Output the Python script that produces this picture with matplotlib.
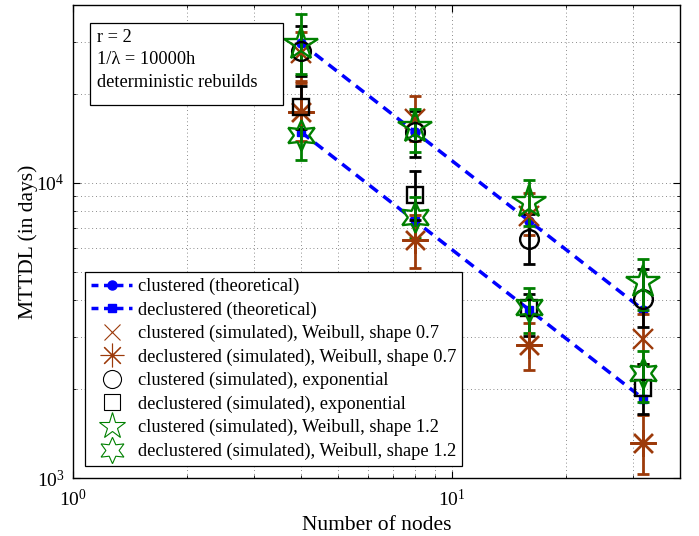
import numpy as np
import matplotlib
matplotlib.use("Agg")
import matplotlib.pyplot as plt
from matplotlib.lines import Line2D
from matplotlib.patches import Rectangle
from matplotlib.ticker import NullFormatter, LogLocator

plt.rcParams['font.family'] = ['Liberation Serif', 'DejaVu Serif']
plt.rcParams['mathtext.fontset'] = 'custom'
plt.rcParams['mathtext.rm'] = 'Liberation Serif'

# number of nodes
nodes = [4, 8, 16, 32]

# theoretical MTTDL (days)
clus_theory = [29700, 14850, 7425, 3712]
declus_theory = [14850, 7425, 3712, 1856]

# simulated: value, lower bound, upper bound
clus_w07 = [27500, 16400, 7700, 2950]
clus_w07_lo = [22100, 13900, 6630, 2440]
clus_w07_hi = [32300, 19700, 9220, 3580]

declus_w07 = [17300, 6400, 2830, 1310]
declus_w07_lo = [13900, 5130, 2330, 1030]
declus_w07_hi = [21800, 7800, 3350, 1630]

clus_exp = [28000, 14900, 6460, 4050]
clus_exp_lo = [23000, 12250, 5320, 3250]
clus_exp_hi = [34000, 17500, 7860, 5090]

declus_exp = [18100, 9080, 3760, 2010]
declus_exp_lo = [15250, 7500, 3020, 1650]
declus_exp_hi = [21200, 11000, 4190, 2440]

clus_w12 = [29600, 15460, 8600, 4610]
clus_w12_lo = [23400, 12730, 7150, 3700]
clus_w12_hi = [37300, 17800, 10230, 5500]

declus_w12 = [14500, 7675, 3800, 2260]
declus_w12_lo = [11930, 6490, 3100, 1810]
declus_w12_hi = [17300, 8970, 4410, 2690]

labels = [
    "clustered (theoretical)",
    "declustered (theoretical)",
    "clustered (simulated), Weibull, shape 0.7",
    "declustered (simulated), Weibull, shape 0.7",
    "clustered (simulated), exponential",
    "declustered (simulated), exponential",
    "clustered (simulated), Weibull, shape 1.2",
    "declustered (simulated), Weibull, shape 1.2",
]

BLUE = '#0000ff'
BROWN = '#9c3a0a'
GREEN = '#008000'
HEXAGRAM = (6, 1, 0)

fig = plt.figure(figsize=(6.99, 5.36), dpi=100)
ax = fig.add_axes([0.1044, 0.1082, 0.8684, 0.8825])
ax.set_xscale('log')
ax.set_yscale('log')

dash = (0, (3, 2))
ax.plot(nodes, clus_theory, color=BLUE, ls=dash, lw=2.5, marker='o', ms=6.5, zorder=2)
ax.plot(nodes, declus_theory, color=BLUE, ls=dash, lw=2.5, marker='s', ms=6, zorder=2)


def err(vals, lo, hi):
    vals = np.array(vals, dtype=float)
    return [vals - np.array(lo), np.array(hi) - vals]


series = [
    (clus_w07, clus_w07_lo, clus_w07_hi, 'x', BROWN, 14),
    (declus_w07, declus_w07_lo, declus_w07_hi, (8, 2, 0), BROWN, 19),
    (clus_exp, clus_exp_lo, clus_exp_hi, 'o', 'k', 13.5),
    (declus_exp, declus_exp_lo, declus_exp_hi, 's', 'k', 12),
    (clus_w12, clus_w12_lo, clus_w12_hi, '*', GREEN, 25),
    (declus_w12, declus_w12_lo, declus_w12_hi, HEXAGRAM, GREEN, 22),
]
for vals, lo, hi, mk, col, ms in series:
    ax.errorbar(nodes, vals, yerr=err(vals, lo, hi), fmt='none', ecolor=col,
                elinewidth=2, capsize=4.5, capthick=2, zorder=3)
    ax.plot(nodes, vals, ls='none', marker=mk, ms=ms, mfc='none', mec=col,
            mew=1.7, zorder=4)

ax.set_xlim(1, 40)
ax.set_ylim(1e3, 4e4)
ax.xaxis.set_major_locator(LogLocator(base=10))
ax.yaxis.set_major_locator(LogLocator(base=10))
ax.xaxis.set_minor_formatter(NullFormatter())
ax.yaxis.set_minor_formatter(NullFormatter())
ax.tick_params(which='both', direction='in', top=True, right=True, labelsize=14)
ax.tick_params(which='major', length=5, width=0.8)
ax.tick_params(which='minor', length=2.5, width=0.6)
ax.tick_params(axis='x', pad=8)
ax.tick_params(axis='y', pad=6)
for s in ax.spines.values():
    s.set_linewidth(1.0)

ax.grid(True, which='both', color='0.4', ls=(0, (1, 3.5)), lw=0.6)
ax.set_axisbelow(True)

ax.set_xlabel("Number of nodes", fontsize=15.5, labelpad=4)
ax.set_ylabel("MTTDL (in days)", fontsize=15.5, labelpad=-1)

# info box
ax.add_patch(Rectangle((0.028, 0.7886), 0.318, 0.1734, transform=ax.transAxes,
                       facecolor='white', edgecolor='k', lw=0.9, zorder=5))
ax.text(0.039, 0.8837, "r = 2\n1/\u03bb = 10000h\ndeterministic rebuilds",
        transform=ax.transAxes, fontsize=13.2, va='center', ha='left',
        linespacing=1.45, zorder=6)

# legend proxies, thin markers without error bars
handles = [
    Line2D([], [], color=BLUE, ls=(0, (2, 1.6)), lw=2.5, marker='o', ms=6.5, mfc=BLUE, mec=BLUE),
    Line2D([], [], color=BLUE, ls=(0, (2, 1.6)), lw=2.5, marker='s', ms=6, mfc=BLUE, mec=BLUE),
    Line2D([], [], ls='none', marker='x', ms=11, mec=BROWN, mew=0.8),
    Line2D([], [], ls='none', marker=(8, 2, 0), ms=17, mec=BROWN, mew=0.8),
    Line2D([], [], ls='none', marker='o', ms=13, mfc='none', mec='k', mew=0.8),
    Line2D([], [], ls='none', marker='s', ms=11, mfc='none', mec='k', mew=0.8),
    Line2D([], [], ls='none', marker='*', ms=20, mfc='none', mec=GREEN, mew=0.8),
    Line2D([], [], ls='none', marker=HEXAGRAM, ms=19, mfc='none', mec=GREEN, mew=0.8),
]
leg = ax.legend(handles, labels, loc='upper left', bbox_to_anchor=(0.0198, 0.4355),
                borderaxespad=0, fontsize=13.2, labelspacing=0.34, handlelength=2.27,
                handletextpad=0.28, borderpad=0.32, fancybox=False, framealpha=1,
                edgecolor='k')
leg.get_frame().set_linewidth(0.9)
leg.set_zorder(6)

fig.savefig("out.png", dpi=100)
